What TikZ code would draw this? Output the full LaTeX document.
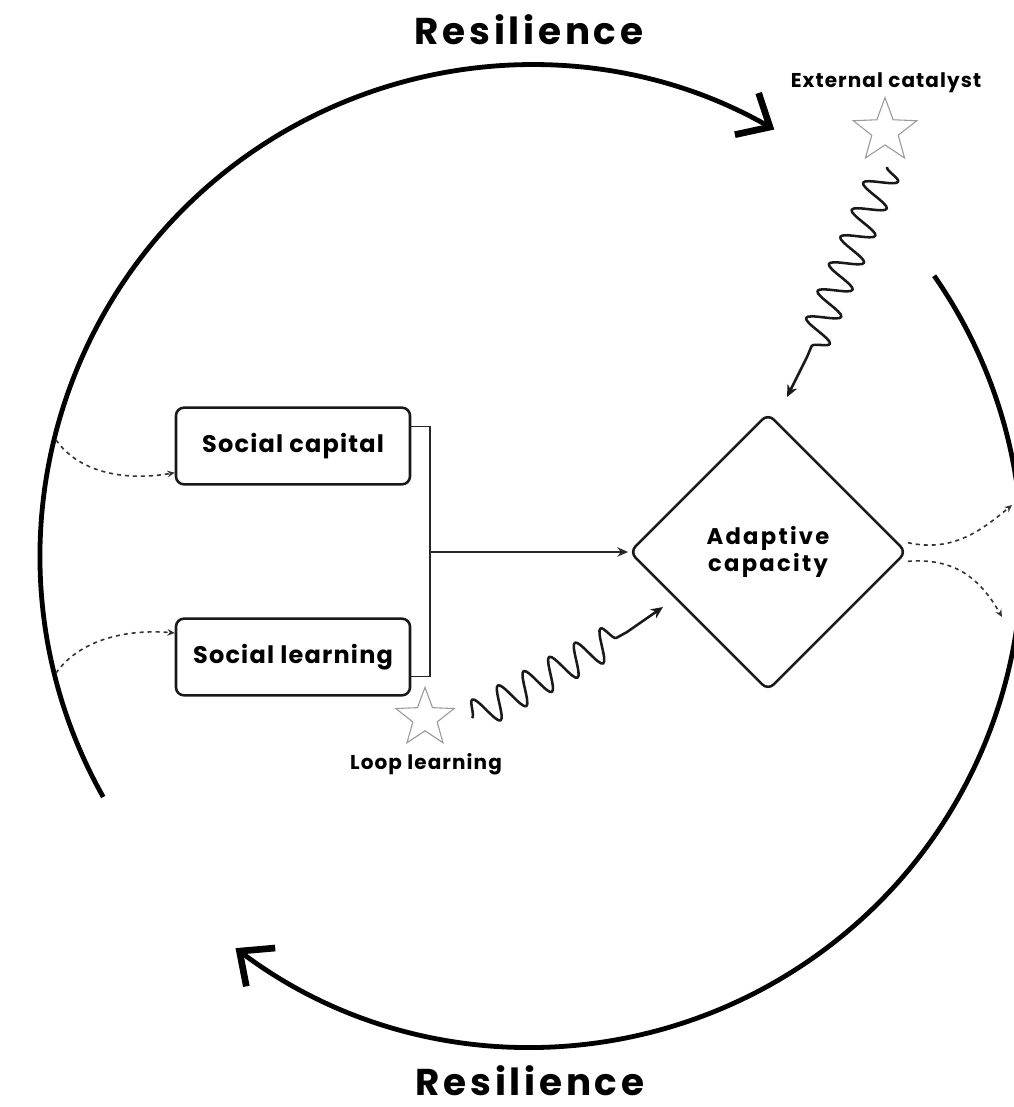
\documentclass[tikz,border=0pt]{standalone}
\usepackage{fontspec}
\setmainfont{Poppins}
\newcommand{\track}[1]{\addfontfeature{LetterSpace=#1}}
\usetikzlibrary{arrows.meta,shapes.geometric,decorations.pathmorphing,calc}

\begin{document}
\begin{tikzpicture}[x=0.75pt,y=-0.75pt,
  ring/.style={line width=3.6pt, -{Straight Barb[length=20pt,width=36pt,line width=5pt]}},
  title/.style={font=\fontsize{28pt}{34pt}\bfseries\track{10}, inner sep=0pt},
  box/.style={draw=black!90, line width=1.9pt, rounded corners=6pt,
    minimum width=175.5pt, minimum height=57.5pt, inner sep=0pt,
    font=\fontsize{18pt}{21pt}\bfseries\track{5}},
  hub/.style={diamond, draw=black!90, line width=1.9pt, rounded corners=6pt,
    minimum width=208pt, minimum height=208pt, inner sep=0pt, align=center,
    font=\fontsize{17pt}{20pt}\bfseries\track{10}},
  tag/.style={font=\fontsize{15pt}{18pt}\bfseries\track{5.5}, inner sep=0pt},
  spark/.style={star, star points=5, star point ratio=2.4, draw=black!40,
    line width=0.8pt, inner sep=0pt},
  link/.style={draw=black!85, line width=1.3pt},
  arr/.style={link, -{Stealth[length=8pt,width=7pt]}},
  wavearr/.style={draw=black!90, line width=1.9pt, line join=round,
    -{Stealth[length=9pt,width=8pt]}},
  dots/.style={draw=black!80, line width=1.2pt, dash pattern=on 3pt off 3pt,
    -{Stealth[length=5.5pt,width=5pt]}},
  wave/.style={decorate, decoration={snake, segment length=22pt, amplitude=12pt}}
]
\useasboundingbox (0,0) rectangle (1014,1107);
\fill[white] (0,0) rectangle (1014,1107);
\clip (0,0) rectangle (1014,1107);

% outer cycle: two arcs of one circle
\coordinate (ctr) at (531,556);
\draw[ring] (ctr) ++(150.6:491) arc[start angle=150.6, end angle=299.7, radius=491];
\draw[ring] (ctr) ++(-34.8:491) arc[start angle=-34.8, end angle=127, radius=491];

% titles
\node[title] (rtop) at (529,30) {Resilience};
\node[title] (rbot) at (530,1081) {Resilience};

% main nodes
\node[box] (sc) at (293,446) {Social capital};
\node[box] (sl) at (293,657) {Social learning};
\node[hub] (ac) at (768,552) {Adaptive\\capacity};

% bracket joining the two boxes, then on to the hub
\coordinate (jn) at (430,552);
\draw[link] ([yshift=-15pt]sc.north east) -| (jn) |- ([yshift=15pt]sl.south east);
\draw[arr] (jn) -- (ac.west);

% external catalyst
\node[tag] (cat) at (886,83) {External catalyst};
\node[spark, minimum size=50pt] (catstar) at (885,131) {};
\coordinate (cw1) at ($(catstar.center)+(2,36)$);
\coordinate (cw2) at (807,357);
\coordinate (cend) at ($(ac.north)+(19,-15)$);
\draw[wavearr] (cw1) decorate[wave] {-- (cw2)} -- (cend);

% loop learning
\node[spark, minimum size=46pt] (loopstar) at (425,718) {};
\node[tag] (loop) at (426,764) {Loop learning};
\coordinate (lw1) at ($(loopstar.center)+(47,0)$);
\coordinate (lw2) at (627,632);
\coordinate (lend) at ($(ac.center)+(-105,55)$);
\draw[wavearr] (lw1) decorate[wave] {-- (lw2)} -- (lend);

% dotted feeds from the cycle into the boxes
\coordinate (in1) at (56,440);
\coordinate (in2) at (56,673);
\draw[dots] (in1) .. controls +(25,35) and +(-45,8) .. ([yshift=-20pt]sc.west);
\draw[dots] (in2) .. controls +(25,-35) and +(-45,-4) .. ([yshift=18pt]sl.west);

% dotted outputs from the hub to the cycle
\coordinate (out1) at (1012,505);
\coordinate (out2) at (1002,617);
\draw[dots] ([yshift=7pt]ac.east) .. controls +(45,10) and +(-30,25) .. (out1);
\draw[dots] ([yshift=-7pt]ac.east) .. controls +(50,-4) and +(-20,-35) .. (out2);
\end{tikzpicture}
\end{document}
